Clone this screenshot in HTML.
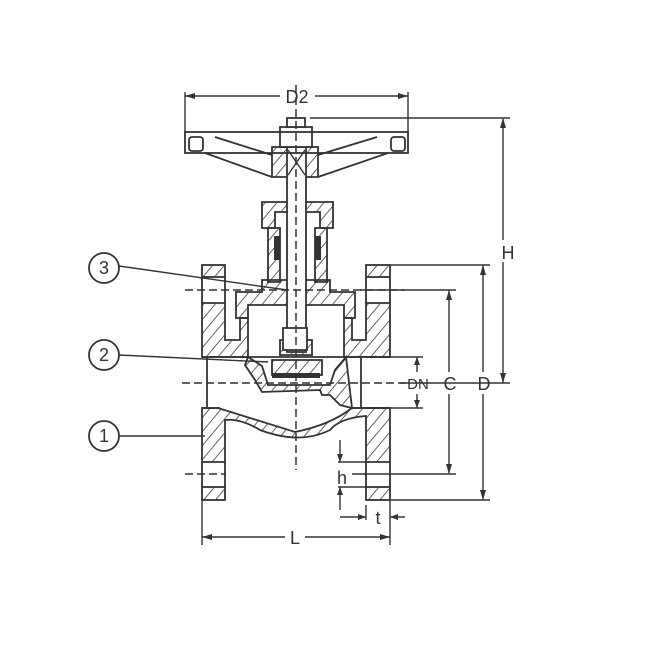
<!DOCTYPE html>
<html><head><style>body{margin:0;background:#fff}svg{display:block}</style></head><body>
<svg width="650" height="650" viewBox="0 0 650 650" xmlns="http://www.w3.org/2000/svg" font-family="Liberation Mono, monospace" fill="none" stroke="#333" stroke-width="1.8">
<defs><pattern id="h" width="9" height="9" patternUnits="userSpaceOnUse" patternTransform="rotate(40)"><line x1="0" y1="0" x2="0" y2="9" stroke="#333" stroke-width="1.5"/></pattern></defs>
<g fill="url(#h)">
<rect x="202" y="265" width="23" height="12"/><rect x="366" y="265" width="24" height="12"/>
<rect x="202" y="487" width="23" height="13"/><rect x="366" y="487" width="24" height="13"/>
<path d="M202 303H225V340H240V318H248V357H202Z"/>
<path d="M390 303H366V340H352V318H344V357H390Z"/>
<path d="M202 408H218Q250 418 295 432Q330 425 352 408H390V462H366V416Q340 418 330 430Q300 445 260 430Q240 418 225 420V462H202Z"/>
<path d="M248 357L262 366L268 385L330 385L335 370L346 357L352 408L340 405L330 395L322 395L320 390L262 392L255 380L245 365Z"/>
<path d="M272 360H322V375H272Z"/>
<path d="M236 292H262V280H330V292H355V318H344V305H248V318H236Z"/>
<path d="M268 228H280V282H268Z"/><path d="M315 228H327V282H315Z"/>
<path d="M262 202H333V228H320V212H275V228H262Z"/>
<path d="M272 147H318V177H272Z"/>
<path d="M280 340H312V355H280Z"/>
</g>
<rect x="274" y="236" width="6" height="24" fill="#333" stroke="none"/><rect x="315" y="236" width="6" height="24" fill="#333" stroke="none"/>
<rect x="272" y="373" width="48" height="5" fill="#333" stroke="none"/>
<rect x="287" y="147" width="19" height="205" fill="#fff"/>
<rect x="283" y="328" width="24" height="22" fill="#fff"/>
<path d="M288 150L305 175M305 150L288 175" stroke-width="1.4"/>
<rect x="280" y="127" width="32" height="20" fill="#fff"/><rect x="287" y="118" width="18" height="9" fill="#fff"/>
<rect x="185" y="132" width="223" height="21" fill="none"/>
<rect x="189" y="137" width="14" height="14" rx="3"/><rect x="391" y="137" width="14" height="14" rx="3"/>
<path d="M205 153L272 177M215 137L272 155M388 153L318 177M377 137L318 155"/>
<path d="M207 357V408M361 357V408M202 357H390M202 408H220M352 408H390"/>
<path d="M202 277V303M225 277V303M366 277V303M390 277V303M202 462V487M225 462V487M366 462V487M390 462V487"/>
<g stroke-dasharray="8,4" stroke-width="1.5">
<path d="M296 85V470"/><path d="M185 290H405M185 474H226M182 383H410M352 474H366"/>
</g>
<g stroke-width="1.4">
<path d="M185 92V132M408 92V132M185 96H280M315 96H408"/>
<path d="M310 118H510M400 383H510M503 118V240M503 262V383"/>
<path d="M390 265H490M390 500H490M483 265V372M483 394V500"/>
<path d="M360 290H456M360 474H456M449 290V372M449 394V474"/>
<path d="M366 357H423M366 408H423M417 357V372M417 394V408"/>
<path d="M338 462H366M338 487H366M340 440V462M340 487V510"/>
<path d="M340 517H366M390 517H405M366 505V520M202 500V545M390 500V545M202 537H285M305 537H390"/>
</g>
<g fill="#333" stroke="none">
<path d="M185 96l10-3v6zM408 96l-10-3v6zM503 118l-3 10h6zM503 383l-3-10h6zM483 265l-3 10h6zM483 500l-3-10h6zM449 290l-3 10h6zM449 474l-3-10h6zM417 357l-3 8h6zM417 408l-3-8h6zM340 462l-3-8h6zM340 487l-3 8h6zM366 517l-8-3v6zM390 517l8-3v6zM202 537l10-3v6zM390 537l-10-3v6z"/>
</g>
<g fill="#333" stroke="none" font-size="18" text-anchor="middle" font-family="Liberation Sans, sans-serif">
<text x="297" y="103">D2</text><text x="508" y="259">H</text><text x="484" y="390">D</text>
<text x="450" y="390">C</text><text x="418" y="389" font-size="15">DN</text><text x="342" y="484">h</text>
<text x="378" y="524">t</text><text x="295" y="544">L</text>
<text x="104" y="274">3</text><text x="104" y="361">2</text><text x="104" y="442">1</text>
</g>
<circle cx="104" cy="268" r="15"/><circle cx="104" cy="355" r="15"/><circle cx="104" cy="436" r="15"/>
<path d="M119 266L287 290M119 355L268 362M119 436L205 436" stroke-width="1.4"/>
</svg>
</body></html>
